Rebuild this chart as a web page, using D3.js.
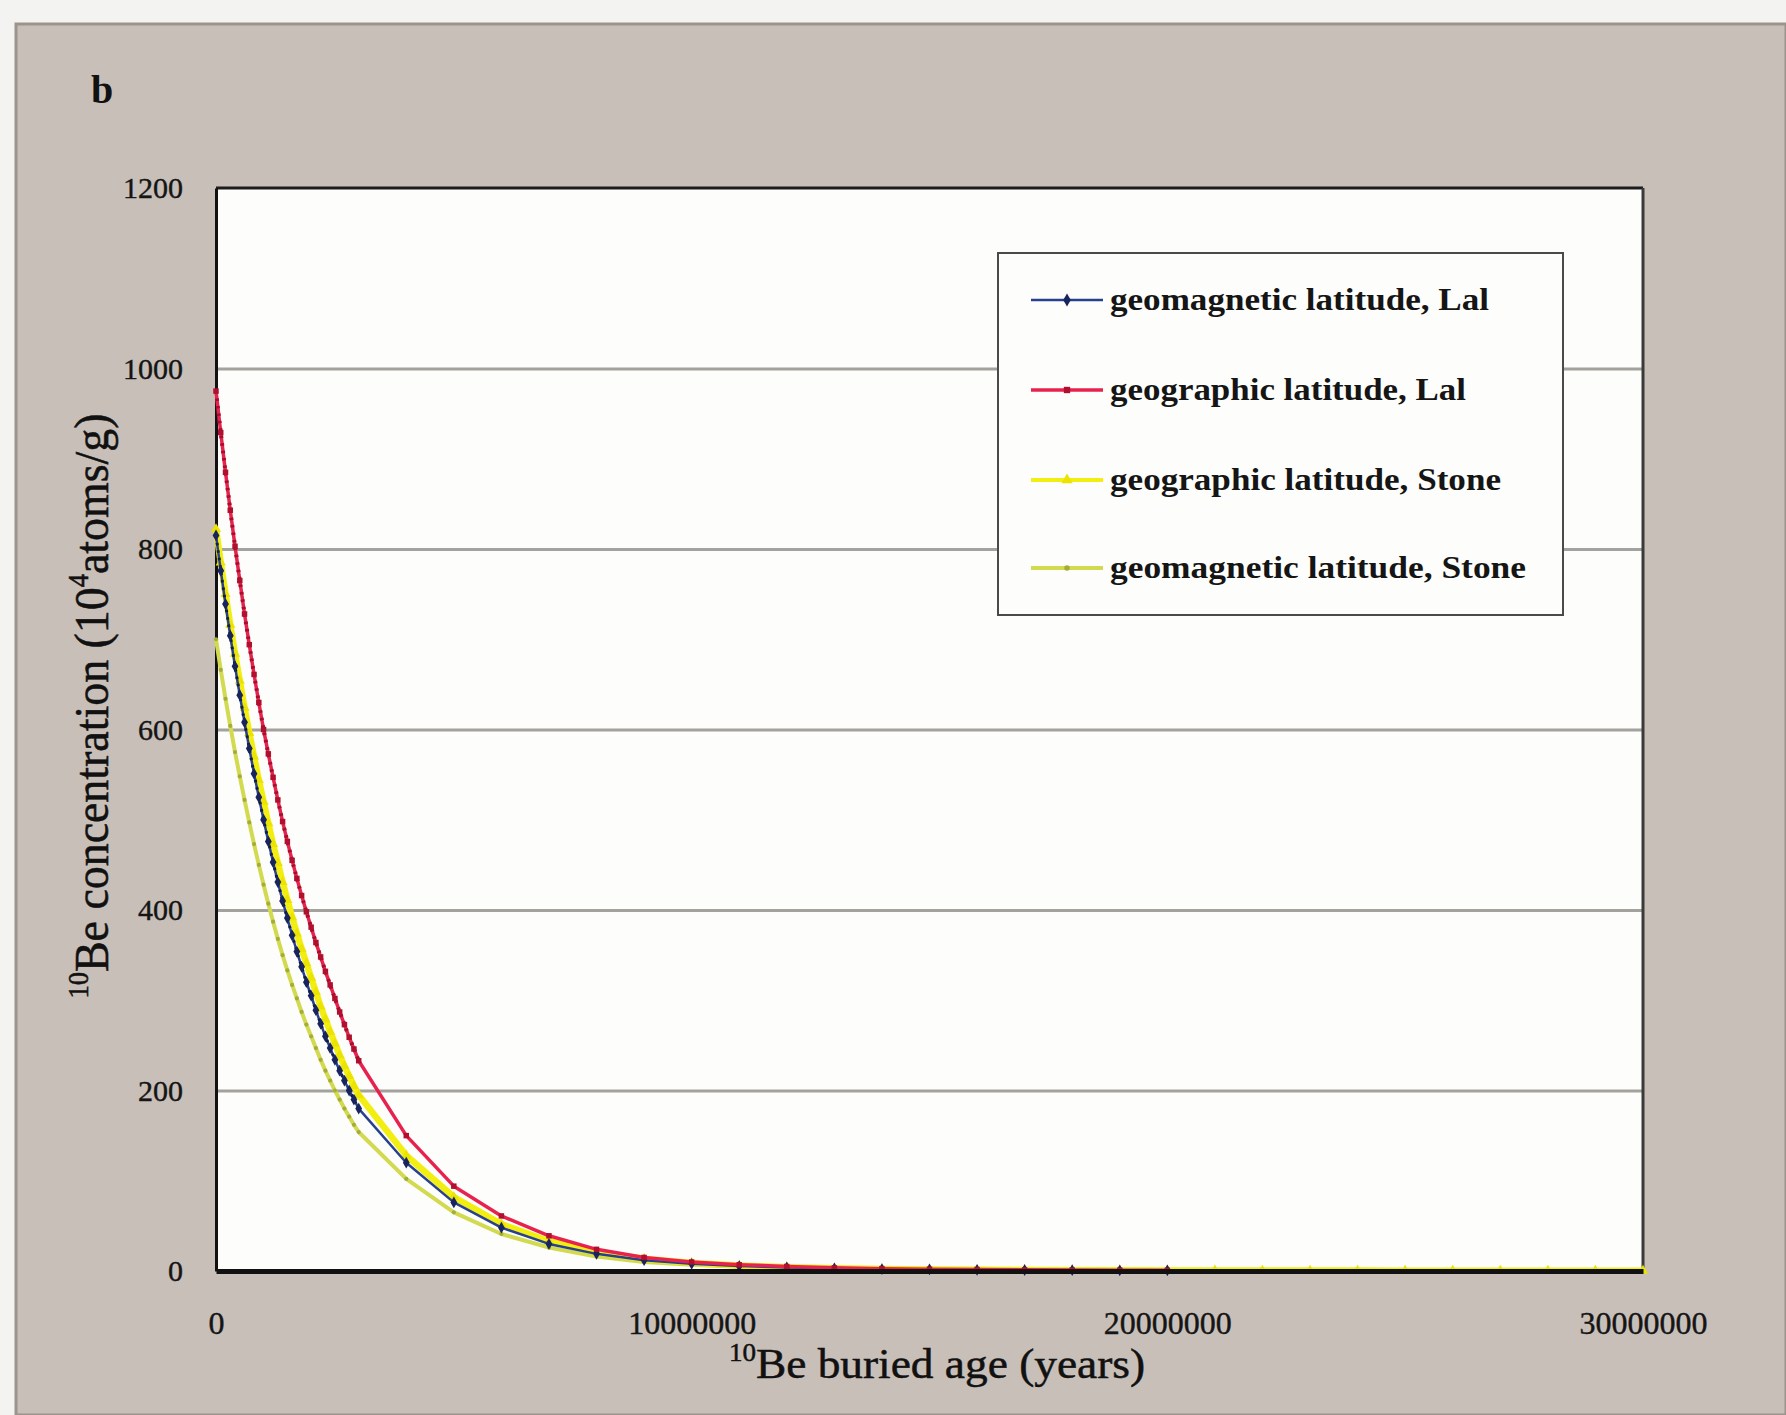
<!DOCTYPE html>
<html><head><meta charset="utf-8">
<script src="https://cdn.jsdelivr.net/npm/d3@7"></script>
<style>html,body{margin:0;padding:0;background:#f3f3f1;} svg{display:block;}</style>
</head><body>
<svg id="chart" width="1786" height="1415"></svg>
<script>
// ---- data (buried age in years, concentration in 10^4 atoms/g) ----
const buriedAge = [0,100000,200000,300000,400000,500000,600000,700000,800000,900000,
  1000000,1100000,1200000,1300000,1400000,1500000,1600000,1700000,1800000,1900000,
  2000000,2100000,2200000,2300000,2400000,2500000,2600000,2700000,2800000,2900000,
  3000000,4000000,5000000,6000000,7000000,8000000,9000000,10000000,11000000,12000000,
  13000000,14000000,15000000,16000000,17000000,18000000,19000000,20000000,21000000,22000000,
  23000000,24000000,25000000,26000000,27000000,28000000,29000000,30000000];

const geomagneticLal = [815,776,739,704,670,638,608,579,551,525,500,
  476,453,431,410,391,372,354,337,320,305,
  289,274,260,247,234,222,211,200,190,180,
  120,76,48,30,19,12,8,5.5,4,3,2.2,1.7,1.3,1.1,0.9,0.8,0.7];

const geographicLal = [975,929,885,843,803,765,728,694,661,630,600,
  573,547,522,498,476,455,435,416,398,381,
  364,348,332,317,302,287,273,259,246,233,
  150,94,61,39,24,15,10,7,5,3.5,2.6,2,1.6,1.3,1.1,0.9,0.8];

const geographicStone = [822,785,750,716,684,654,624,596,570,544,520,
  496,473,452,431,411,392,374,357,341,325,
  309,293,279,265,252,239,227,216,205,195,
  128,82,52,33,21,13.5,9,6,4.2,3,2.2,1.7,1.3,1,0.8,0.7,0.6,
  0.55,0.5,0.45,0.42,0.4,0.37,0.35,0.33,0.31,0.3];

const geomagneticStone = [700,666,634,604,575,548,522,497,473,450,428,
  407,387,368,350,333,317,302,287,273,260,
  247,234,222,211,200,190,180,171,162,154,
  102,65,41,26,16,10,7,4.6,3.3,2.4,1.8,1.4,1.1,0.9,0.7,0.6,0.5,
  0.45,0.4,0.36,0.33,0.3,0.28,0.26,0.24,0.22,0.2];

const seriesNames = ["geomagnetic latitude, Lal","geographic latitude, Lal",
  "geographic latitude, Stone","geomagnetic latitude, Stone"];
const xTicks = [0,10000000,20000000,30000000];
const yTicks = [0,200,400,600,800,1000,1200];

// ---- styles ----
const styles = [
  {values: geomagneticLal, line:"#27418f", mark:"#17245e", w:2.5, sym:d3.symbolDiamond, size:40, dots:"#141c44"},
  {values: geographicLal, line:"#e8224e", mark:"#b0102e", w:3.5, sym:d3.symbolSquare, size:30, dots:"#a3102c"},
  {values: geographicStone, line:"#f3ee12", mark:"#ebe300", w:6.5, sym:d3.symbolTriangle, size:45, dots:null},
  {values: geomagneticStone, line:"#d2da50", mark:"#a4ad3a", w:4, sym:d3.symbolCircle, size:14, dots:null}
];

const svg = d3.select("#chart");
const W = 1786, H = 1415;
const L = 216, R = 1643, T = 188, B = 1271;

// page / scanned panel
svg.append("rect").attr("x",0).attr("y",0).attr("width",W).attr("height",H).attr("fill","#f3f3f1");
svg.append("rect").attr("x",16).attr("y",24).attr("width",W-16).attr("height",H-24)
  .attr("fill","#c8bfb8").attr("stroke","#9c948c").attr("stroke-width",3);

const x = d3.scaleLinear().domain([0,30000000]).range([L,R]);
const y = d3.scaleLinear().domain([0,1200]).range([B,T]);

// plot area
svg.append("rect").attr("x",L).attr("y",T).attr("width",R-L).attr("height",B-T).attr("fill","#fdfdfb");

// gridlines
svg.append("g").attr("transform",`translate(${L},0)`)
  .call(d3.axisLeft(y).tickValues(yTicks.filter(v=>v>0 && v<1200)).tickSize(-(R-L)).tickFormat(""))
  .call(g=>g.select(".domain").remove())
  .call(g=>g.selectAll("line").attr("stroke","#a3a29c").attr("stroke-width",3));

// frame
svg.append("line").attr("x1",L).attr("x2",R).attr("y1",T).attr("y2",T).attr("stroke","#1c1c1c").attr("stroke-width",3);
svg.append("line").attr("x1",R).attr("x2",R).attr("y1",T).attr("y2",B).attr("stroke","#3a3a3a").attr("stroke-width",3);

// y axis labels
const yAx = svg.append("g").attr("transform",`translate(${L},0)`)
  .call(d3.axisLeft(y).tickValues(yTicks).tickSize(0).tickPadding(33).tickFormat(d3.format("d")));
yAx.select(".domain").attr("stroke","#111").attr("stroke-width",3);
yAx.selectAll("text").attr("font-family","'Liberation Serif', serif").attr("font-size",30)
  .attr("fill","#151515").attr("stroke","#151515").attr("stroke-width",0.4);

// series
const dataFor = s => s.values.map((v,i)=>({t:buriedAge[i], v}));
const line = d3.line().x(d=>x(d.t)).y(d=>y(d.v));
const order = [3,2,0,1];
order.forEach(k=>{
  const s = styles[k];
  const d = dataFor(s);
  svg.append("path").datum(d).attr("d",line).attr("fill","none")
    .attr("stroke",s.line).attr("stroke-width",s.w).attr("stroke-linejoin","round");
  if (s.dots){
    svg.append("path").datum(d.filter(p=>p.t<=3000000)).attr("d",line).attr("fill","none")
      .attr("stroke",s.dots).attr("stroke-width",s.w+0.5).attr("stroke-dasharray","2.5 5");
  }
  const sym = d3.symbol().type(s.sym).size(s.size);
  svg.append("g").selectAll("path").data(d).join("path")
    .attr("transform",p=>`translate(${x(p.t)},${y(p.v)})`)
    .attr("d",sym)
    .attr("fill", s.mark);
});

// x axis
const xAx = svg.append("g").attr("transform",`translate(0,${B})`)
  .call(d3.axisBottom(x).tickValues(xTicks).tickSize(0).tickPadding(40).tickFormat(d3.format("d")));
xAx.select(".domain").attr("stroke","#111").attr("stroke-width",5);
xAx.selectAll("text").attr("font-family","'Liberation Serif', serif").attr("font-size",32)
  .attr("fill","#151515").attr("stroke","#151515").attr("stroke-width",0.4);

// legend
const lg = svg.append("g");
lg.append("rect").attr("x",998).attr("y",253).attr("width",565).attr("height",362)
  .attr("fill","#fdfdfb").attr("stroke","#4a4a4a").attr("stroke-width",2);
const legendY = [300,390,480,568];
const legendLen = [379,356,391,416];
seriesNames.forEach((name,i)=>{
  const s = styles[i];
  lg.append("line").attr("x1",1031).attr("x2",1103).attr("y1",legendY[i]).attr("y2",legendY[i])
    .attr("stroke",s.line).attr("stroke-width",Math.min(s.w,4));
  lg.append("path").attr("transform",`translate(1067,${legendY[i]})`)
    .attr("d",d3.symbol().type(s.sym).size(s.size+10)())
    .attr("fill", s.mark);
  lg.append("text").attr("x",1110).attr("y",legendY[i]+10)
    .attr("font-family","'Liberation Serif', serif").attr("font-weight","bold")
    .attr("font-size",32).attr("fill","#151515")
    .attr("textLength",legendLen[i]).attr("lengthAdjust","spacingAndGlyphs").text(name);
});

// panel letter
svg.append("text").attr("x",91).attr("y",103).attr("font-family","'Liberation Serif', serif")
  .attr("font-weight","bold").attr("font-size",40).attr("fill","#111").text("b");

// axis titles
const xt = svg.append("text").attr("transform","translate(937,1378) scale(1.08,1)").attr("text-anchor","middle")
  .attr("font-family","'Liberation Serif', serif").attr("font-size",42).attr("fill","#111")
  .attr("stroke","#111").attr("stroke-width",0.5);
xt.append("tspan").attr("font-size",25).attr("dy",-17).text("10");
xt.append("tspan").attr("dy",17).text("Be buried age (years)");

const yt = svg.append("text").attr("transform","translate(108,706) rotate(-90) scale(1.02,1.1)")
  .attr("text-anchor","middle")
  .attr("font-family","'Liberation Serif', serif").attr("font-size",45).attr("fill","#111")
  .attr("stroke","#111").attr("stroke-width",0.5);
yt.append("tspan").attr("font-size",26).attr("dy",-18).text("10");
yt.append("tspan").attr("dy",18).text("Be concentration (10");
yt.append("tspan").attr("font-size",26).attr("dy",-18).text("4");
yt.append("tspan").attr("dy",18).text("atoms/g)");
</script>
</body></html>
